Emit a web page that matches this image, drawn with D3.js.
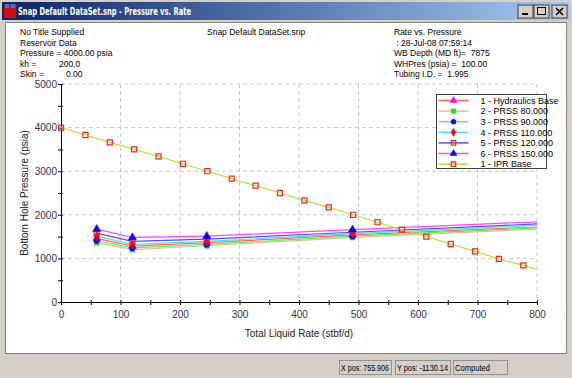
<!DOCTYPE html>
<html>
<head>
<meta charset="utf-8">
<script src="https://cdn.jsdelivr.net/npm/d3@7"></script>
<style>
  body { margin: 0; padding: 0; background: #d4d0c8; }
  svg { display: block; font-family: "Liberation Sans", Arial, sans-serif; }
</style>
</head>
<body>
<svg id="drawing_region"></svg>
<script>
// ---- data ----
const iprRate = [0, 41, 82, 123, 164, 205, 246, 287, 327, 368, 409, 450, 491, 532, 573, 614, 655, 696, 736, 777, 800];
const iprPressure = [4000, 3830, 3660, 3500, 3340, 3170, 3000, 2830, 2670, 2500, 2330, 2170, 2000, 1830, 1660, 1500, 1330, 1160, 990, 840, 750];

const prssRate = [60, 120, 245, 490, 800];
const hydraulicsBase = [1460, 1280, 1360, 1540, 1720];
const prss80 = [1360, 1200, 1290, 1480, 1670];
const prss90 = [1410, 1240, 1320, 1510, 1700];
const prss110 = [1510, 1320, 1390, 1570, 1760];
const prss120 = [1580, 1390, 1440, 1600, 1790];
const prss150 = [1670, 1480, 1510, 1660, 1840];

const seriesNames = ['1 - Hydraulics Base', '2 - PRSS 80.000', '3 - PRSS 90.000', '4 - PRSS 110.000',
                     '5 - PRSS 120.000', '6 - PRSS 150.000', '1 - IPR Base'];

const headerLeft = ['No Title Supplied', 'Reservoir Data', 'Pressure =  4000.00 psia', 'kh =', 'Skin ='];
const headerRight = ['Rate vs. Pressure', ' : 28-Jul-08 07:59:14', 'WB Depth (MD ft)=  7875', 'WHPres (psia) =  100.00', 'Tubing I.D. =  1.995'];

const xTicks = [0, 100, 200, 300, 400, 500, 600, 700, 800];
const yTicks = [0, 1000, 2000, 3000, 4000, 5000];

// ---- styles ----
const styles = [
    {line: '#ff6868', marker: 'triangle', fill: '#ff00ff', stroke: '#ff00ff'},
    {line: '#dcc0a0', marker: 'square', fill: '#22dd22', stroke: '#22dd22'},
    {line: '#66ee55', marker: 'circle', fill: '#0000ff', stroke: '#0000ff'},
    {line: '#55e0e8', marker: 'diamond', fill: '#ff0000', stroke: '#ff0000'},
    {line: '#5050ee', marker: 'square', fill: 'none', stroke: '#ff2020'},
    {line: '#ff44ff', marker: 'triangle', fill: '#0000ff', stroke: '#0000ff'},
    {line: '#b8e040', marker: 'square', fill: 'none', stroke: '#ff2020'}
];

const W = 572, H = 378;
const svg = d3.select('#drawing_region').attr('width', W).attr('height', H);

// ---- window chrome ----
const grad = svg.append('defs').append('linearGradient').attr('id', 'tb');
grad.append('stop').attr('offset', '0%').attr('stop-color', '#0a246a');
grad.append('stop').attr('offset', '100%').attr('stop-color', '#a6caf0');

svg.append('rect').attr('x', 0).attr('y', 0).attr('width', W).attr('height', H).attr('fill', '#d4d0c8');
svg.append('rect').attr('x', 2).attr('y', 2).attr('width', W - 4).attr('height', 18).attr('fill', 'url(#tb)');
// icon
svg.append('rect').attr('x', 4).attr('y', 4).attr('width', 12).attr('height', 14).attr('fill', '#d01010');
svg.append('rect').attr('x', 5).attr('y', 4).attr('width', 4).attr('height', 4).attr('fill', '#2080ff');
svg.append('rect').attr('x', 11).attr('y', 4).attr('width', 4).attr('height', 4).attr('fill', '#2080ff');
svg.append('text').attr('x', 18).attr('y', 14.5).attr('fill', '#fff')
    .attr('textLength', 173).attr('lengthAdjust', 'spacingAndGlyphs')
    .style('font-family', '"DejaVu Sans", sans-serif').style('font-weight', 'bold').style('font-size', '10px')
    .text('Snap Default DataSet.snp - Pressure vs. Rate');
// buttons
[518, 534, 552].forEach((bx, i) => {
    svg.append('rect').attr('x', bx).attr('y', 5).attr('width', 15).attr('height', 13)
        .attr('fill', '#d4d0c8').attr('stroke', '#404040').attr('stroke-width', 1);
    if (i === 0) svg.append('rect').attr('x', bx + 4).attr('y', 13).attr('width', 6).attr('height', 2).attr('fill', '#000');
    if (i === 1) svg.append('rect').attr('x', bx + 3.5).attr('y', 7.5).attr('width', 8).attr('height', 7)
        .attr('fill', 'none').attr('stroke', '#000').attr('stroke-width', 1);
    if (i === 2) svg.append('path').attr('d', `M${bx + 4},8 L${bx + 11},15 M${bx + 11},8 L${bx + 4},15`)
        .attr('stroke', '#000').attr('stroke-width', 1.6);
});

// client area
svg.append('rect').attr('x', 5.5).attr('y', 22.5).attr('width', W - 11).attr('height', 331)
    .attr('fill', '#fff').attr('stroke', '#808080');

// status bar
const status = [{x: 339, w: 52, t: 'X pos: 755.906'}, {x: 395, w: 55, t: 'Y pos: -1130.14'}, {x: 453, w: 54, t: 'Computed'}];
status.forEach(s => {
    svg.append('rect').attr('x', s.x + 0.5).attr('y', 360.5).attr('width', s.w).attr('height', 14)
        .attr('fill', 'none').attr('stroke', '#909090');
    svg.append('text').attr('x', s.x + 2).attr('y', 371).attr('font-size', 8.5).attr('fill', '#000')
        .attr('textLength', s.t === 'Computed' ? 35 : s.w - 4).attr('lengthAdjust', 'spacingAndGlyphs')
        .text(s.t);
});

// ---- header texts ----
const hdr = svg.append('g').attr('font-size', 8.5).attr('fill', '#000');
headerLeft.forEach((t, i) => hdr.append('text').attr('x', 20).attr('y', 35 + i * 10.6).text(t));
hdr.append('text').attr('x', 59).attr('y', 35 + 3 * 10.6).text('200.0');
hdr.append('text').attr('x', 66).attr('y', 35 + 4 * 10.6).text('0.00');
hdr.append('text').attr('x', 207).attr('y', 35).text('Snap Default DataSet.snp');
headerRight.forEach((t, i) => hdr.append('text').attr('x', 394).attr('y', 35 + i * 10.6)
    .style('white-space', 'pre').text(t));

// ---- chart ----
const margin = {left: 61, top: 84};
const innerW = 476, innerH = 218;
const chart = svg.append('g').attr('transform', `translate(${margin.left}, ${margin.top})`);

const xscale = d3.scaleLinear().domain([0, 800]).range([0, innerW]);
const yscale = d3.scaleLinear().domain([0, 5000]).range([innerH, 0]);

// grid
chart.append('g').selectAll('line').data(xTicks.slice(1)).join('line')
    .attr('x1', d => xscale(d)).attr('x2', d => xscale(d)).attr('y1', 0).attr('y2', innerH)
    .attr('stroke', '#c8c8c8').attr('stroke-dasharray', '4,3');
chart.append('g').selectAll('line').data(yTicks.slice(1)).join('line')
    .attr('x1', 0).attr('x2', innerW).attr('y1', d => yscale(d)).attr('y2', d => yscale(d))
    .attr('stroke', '#c8c8c8').attr('stroke-dasharray', '4,3');

// axes
const xaxis = d3.axisBottom(xscale).tickValues(d3.range(0, 801, 50)).tickSize(3).tickSizeOuter(0)
    .tickFormat(d => d % 100 === 0 ? d : '');
const xg = chart.append('g').attr('transform', `translate(0, ${innerH})`).call(xaxis);
xg.selectAll('.tick line').attr('y1', -2);
xg.selectAll('text').attr('dy', '0.95em').attr('font-size', 10).attr('fill', '#33334a')
    .style('font-family', '"Liberation Sans", Arial, sans-serif');

const yaxis = d3.axisLeft(yscale).tickValues(d3.range(0, 5001, 500)).tickSize(3).tickSizeOuter(0)
    .tickFormat(d => d % 1000 === 0 ? d : '');
const yg = chart.append('g').call(yaxis);
yg.selectAll('.tick line').attr('x1', 2);
yg.selectAll('text').attr('x', -4).attr('font-size', 10).attr('fill', '#33334a')
    .style('font-family', '"Liberation Sans", Arial, sans-serif');
chart.selectAll('.domain').attr('stroke', '#000');

// axis titles
svg.append('text').attr('x', 299).attr('y', 337).attr('text-anchor', 'middle').attr('font-size', 10)
    .attr('fill', '#222').text('Total Liquid Rate (stbf/d)');
svg.append('text').attr('transform', 'translate(28, 193) rotate(-90)').attr('text-anchor', 'middle')
    .attr('font-size', 10).attr('fill', '#222').text('Bottom Hole Pressure (psia)');

// series
const prssValues = [hydraulicsBase, prss80, prss90, prss110, prss120, prss150];
const allSeries = prssValues.map(vals => prssRate.map((r, i) => ({rate: r, p: vals[i]})));
allSeries.push(iprRate.map((r, i) => ({rate: r, p: iprPressure[i]})));

const symbolOf = {triangle: d3.symbolTriangle, square: d3.symbolSquare, circle: d3.symbolCircle, diamond: d3.symbolDiamond};
const sizeOf = {triangle: 28, square: 26, circle: 26, diamond: 26};

const line = d3.line().x(d => xscale(d.rate)).y(d => yscale(d.p));
allSeries.forEach((s, i) => {
    chart.append('path').datum(s).attr('d', line).attr('fill', 'none')
        .attr('stroke', styles[i].line).attr('stroke-width', 1.2);
});
allSeries.forEach((s, i) => {
    const st = styles[i];
    chart.append('g').selectAll('path').data(s.filter(d => d.rate < 800)).join('path')
        .attr('transform', d => `translate(${xscale(d.rate)}, ${yscale(d.p)})`)
        .attr('d', d3.symbol().type(symbolOf[st.marker]).size(sizeOf[st.marker]))
        .attr('fill', st.fill).attr('stroke', st.stroke).attr('stroke-width', st.fill === 'none' ? 1.2 : 0.5);
});

// legend
const legend = svg.append('g').attr('transform', 'translate(436.5, 94.5)');
legend.append('rect').attr('x', 0).attr('y', 0).attr('width', 110).attr('height', 74)
    .attr('fill', '#fff').attr('stroke', '#404040');
seriesNames.forEach((name, i) => {
    const st = styles[i];
    const y = 6 + i * 10.6;
    legend.append('line').attr('x1', 2).attr('x2', 32).attr('y1', y).attr('y2', y)
        .attr('stroke', st.line).attr('stroke-width', 1.5);
    legend.append('path').attr('transform', `translate(17, ${y})`)
        .attr('d', d3.symbol().type(symbolOf[st.marker]).size(20))
        .attr('fill', st.fill).attr('stroke', st.stroke).attr('stroke-width', st.fill === 'none' ? 1.2 : 0.5);
    legend.append('text').attr('x', 44).attr('y', y + 3.3).attr('font-size', 9).attr('fill', '#000').text(name);
});
</script>
</body>
</html>
